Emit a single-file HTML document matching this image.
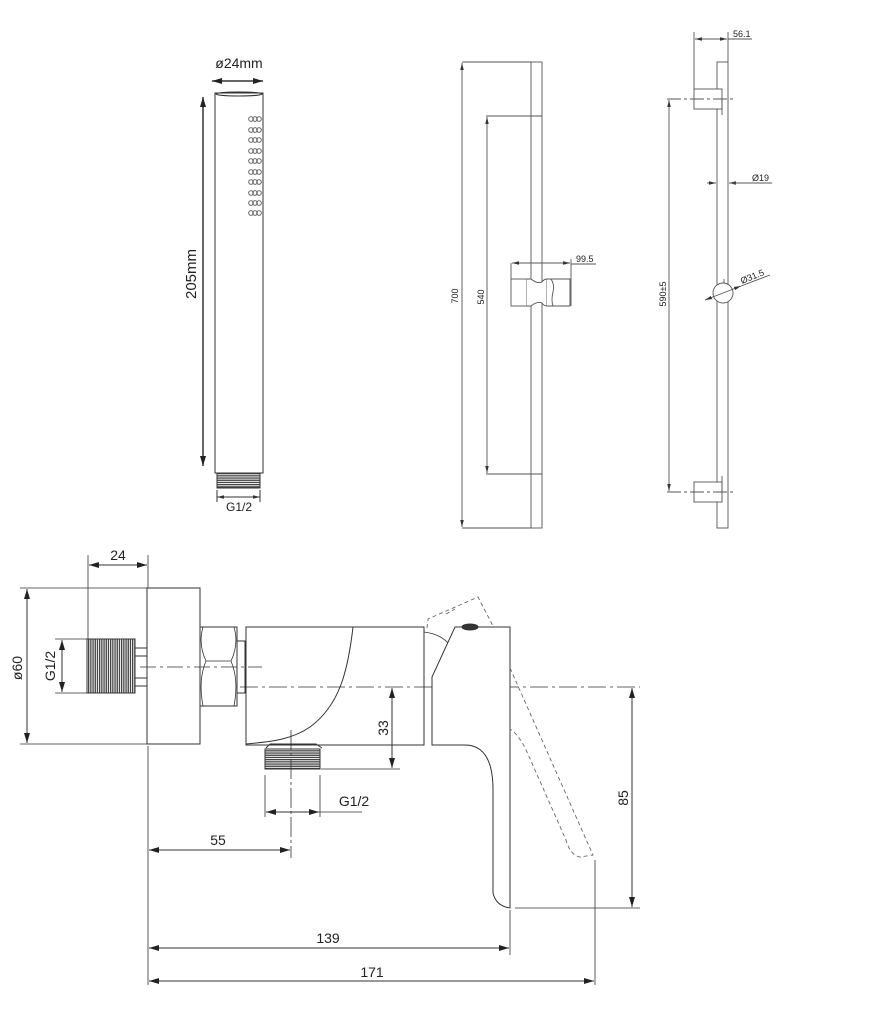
<!DOCTYPE html>
<html><head><meta charset="utf-8"><style>
html,body{margin:0;padding:0;background:#fff;}
svg{display:block;}
text{font-family:"Liberation Sans",sans-serif;fill:#222;}
</style></head><body>
<svg width="890" height="1024" viewBox="0 0 890 1024" xmlns="http://www.w3.org/2000/svg">
<defs>
<marker id="a" viewBox="0 0 10 6" refX="10" refY="3" markerWidth="10" markerHeight="6" orient="auto-start-reverse" markerUnits="userSpaceOnUse"><path d="M0,0L10,3L0,6z" fill="#222"/></marker>
<marker id="s" viewBox="0 0 8 4" refX="8" refY="2" markerWidth="7" markerHeight="4" orient="auto-start-reverse" markerUnits="userSpaceOnUse"><path d="M0,0L8,2L0,4z" fill="#333"/></marker>
<pattern id="thv" width="2.2" height="4" patternUnits="userSpaceOnUse"><rect width="2.2" height="4" fill="#fff"/><rect width="1.3" height="4" fill="#444"/></pattern>
<pattern id="thh" width="4" height="2.2" patternUnits="userSpaceOnUse"><rect width="4" height="2.2" fill="#fff"/><rect width="4" height="1.3" fill="#444"/></pattern>
</defs>
<g fill="none" stroke="#333" stroke-width="1">
<!-- HAND SHOWER -->
<rect x="215" y="93" width="48" height="380"/>
<ellipse cx="239" cy="94" rx="23" ry="2"/>
<rect x="217" y="473" width="43" height="15" fill="url(#thh)"/>
<line x1="212" y1="81" x2="263" y2="81" stroke-width="1.5" marker-start="url(#a)" marker-end="url(#a)"/>
<line x1="203" y1="97" x2="203" y2="466" stroke-width="1.5" marker-start="url(#a)" marker-end="url(#a)"/>
<line x1="217" y1="490" x2="217" y2="502"/><line x1="260" y1="490" x2="260" y2="502"/>
<line x1="217" y1="497" x2="260" y2="497" marker-start="url(#s)" marker-end="url(#s)"/>
<g stroke="#555" stroke-width="0.9">
<circle cx="251" cy="119" r="2.3"/><circle cx="255" cy="119" r="2.3"/><circle cx="259" cy="119" r="2.3"/>
<circle cx="251" cy="130" r="2.3"/><circle cx="255" cy="130" r="2.3"/><circle cx="259" cy="130" r="2.3"/>
<circle cx="251" cy="140" r="2.3"/><circle cx="255" cy="140" r="2.3"/><circle cx="259" cy="140" r="2.3"/>
<circle cx="251" cy="151" r="2.3"/><circle cx="255" cy="151" r="2.3"/><circle cx="259" cy="151" r="2.3"/>
<circle cx="251" cy="161" r="2.3"/><circle cx="255" cy="161" r="2.3"/><circle cx="259" cy="161" r="2.3"/>
<circle cx="251" cy="172" r="2.3"/><circle cx="255" cy="172" r="2.3"/><circle cx="259" cy="172" r="2.3"/>
<circle cx="251" cy="182" r="2.3"/><circle cx="255" cy="182" r="2.3"/><circle cx="259" cy="182" r="2.3"/>
<circle cx="251" cy="193" r="2.3"/><circle cx="255" cy="193" r="2.3"/><circle cx="259" cy="193" r="2.3"/>
<circle cx="251" cy="213" r="2.3"/><circle cx="255" cy="213" r="2.3"/><circle cx="259" cy="213" r="2.3"/>
<circle cx="251" cy="203" r="2.3"/><circle cx="255" cy="203" r="2.3"/><circle cx="259" cy="203" r="2.3"/>
</g>

<!-- SLIDE RAIL MIDDLE -->
<g stroke="#555" stroke-width="0.9">
<rect x="531" y="62" width="11" height="466"/>
<line x1="462" y1="62" x2="531" y2="62"/><line x1="462" y1="528" x2="531" y2="528"/>
<line x1="462" y1="63" x2="462" y2="527" marker-start="url(#s)" marker-end="url(#s)"/>
<line x1="486" y1="116" x2="542" y2="116"/><line x1="486" y1="474" x2="542" y2="474"/>
<line x1="487" y1="117" x2="487" y2="473" marker-start="url(#s)" marker-end="url(#s)"/>
<rect x="511" y="279" width="16" height="27" fill="#fff"/>
<path d="M527,279 H531 Q537,284 542,282 Q544,279 547,279 V306 Q544,306 542,303 Q537,301 531,306 H527" fill="#fff"/>
<path d="M547,279 H570 V306 H547" fill="#fff"/>
<path d="M551,279 Q555,285 553,292 Q551,300 553,306"/>
<line x1="511" y1="263" x2="511" y2="279"/><line x1="571" y1="259" x2="571" y2="306"/>
<line x1="512" y1="263" x2="570" y2="263" marker-start="url(#s)" marker-end="url(#s)"/>
<line x1="571" y1="264" x2="596" y2="264"/>
</g>

<!-- RIGHT RAIL -->
<g stroke="#555" stroke-width="0.9">
<rect x="717" y="62" width="11" height="466"/>
<rect x="694" y="89" width="28" height="20" fill="#fff"/>
<rect x="694" y="482" width="28" height="20" fill="#fff"/>
<line x1="722" y1="99" x2="722" y2="115"/><line x1="722" y1="476" x2="722" y2="492"/>
<line x1="694" y1="32" x2="694" y2="89"/><line x1="728" y1="32" x2="728" y2="62"/>
<line x1="695" y1="39" x2="727" y2="39" marker-start="url(#s)" marker-end="url(#s)"/>
<line x1="728" y1="39" x2="752" y2="39"/>
<line x1="667" y1="99" x2="734" y2="99" stroke-dasharray="14,3,3,3"/>
<line x1="667" y1="492" x2="734" y2="492" stroke-dasharray="14,3,3,3"/>
<line x1="669" y1="100" x2="669" y2="491" marker-start="url(#s)" marker-end="url(#s)"/>
<line x1="707" y1="183" x2="716" y2="183" marker-end="url(#s)"/>
<line x1="738" y1="183" x2="729" y2="183" marker-end="url(#s)"/>
<line x1="729" y1="183" x2="772" y2="183"/>
<circle cx="723" cy="293" r="10" fill="#fff"/>
<line x1="724" y1="283" x2="724" y2="279"/>
<line x1="705" y1="300" x2="741" y2="286" marker-start="url(#s)" marker-end="url(#s)"/>
<line x1="741" y1="286" x2="770" y2="275"/>
</g>

<!-- FAUCET -->
<!-- ext / dims left -->
<line x1="88" y1="555" x2="88" y2="639" stroke-width="0.8"/>
<line x1="148" y1="555" x2="148" y2="588" stroke-width="0.8"/>
<line x1="89" y1="565" x2="147" y2="565" marker-start="url(#a)" marker-end="url(#a)"/>
<line x1="20" y1="588" x2="147" y2="588" stroke-width="0.8"/>
<line x1="20" y1="744" x2="147" y2="744" stroke-width="0.8"/>
<line x1="27" y1="589" x2="27" y2="743" marker-start="url(#a)" marker-end="url(#a)"/>
<line x1="55" y1="639" x2="87" y2="639" stroke-width="0.8"/>
<line x1="55" y1="693" x2="87" y2="693" stroke-width="0.8"/>
<line x1="62" y1="640" x2="62" y2="692" marker-start="url(#a)" marker-end="url(#a)"/>
<rect x="87" y="639" width="48" height="54" fill="url(#thv)"/>
<rect x="87" y="639" width="48" height="54"/>
<rect x="135" y="648" width="12" height="8"/><rect x="135" y="678" width="12" height="8"/>
<!-- plate -->
<rect x="147" y="588" width="53" height="156"/>
<line x1="148" y1="746" x2="148" y2="985" stroke-width="0.8"/>
<!-- nut -->
<rect x="200" y="627" width="37" height="79"/>
<path d="M203,627 Q198,644 206,661 H231 Q239,644 234,627" stroke-width="0.8"/>
<path d="M203,706 Q198,680 206,661 M231,661 Q239,680 234,706" stroke-width="0.8"/>
<rect x="237" y="641" width="8" height="52"/>
<!-- centerlines -->
<line x1="140" y1="667" x2="262" y2="667" stroke-width="0.8" stroke-dasharray="16,4,3,4"/>
<line x1="240" y1="687" x2="640" y2="687" stroke-width="0.8" stroke-dasharray="18,4,3,4"/>
<!-- body -->
<rect x="246" y="627" width="178" height="118"/>
<path d="M353,627 C348,670 340,705 310,727 C290,741 265,742 246,744"/>
<!-- outlet -->
<path d="M266,748 L270,744 H316 L322,748"/>
<rect x="265" y="749" width="55" height="20" fill="url(#thh)"/>
<rect x="265" y="749" width="55" height="20"/>
<line x1="291" y1="730" x2="291" y2="858" stroke-width="0.8" stroke-dasharray="20,3,3,3"/>
<line x1="321" y1="769" x2="400" y2="769" stroke-width="0.8"/>
<line x1="392" y1="688" x2="392" y2="768" marker-start="url(#a)" marker-end="url(#a)"/>
<line x1="265" y1="775" x2="265" y2="817" stroke-width="0.8"/>
<line x1="320" y1="775" x2="320" y2="817" stroke-width="0.8"/>
<line x1="266" y1="812" x2="319" y2="812" marker-start="url(#a)" marker-end="url(#a)"/>
<line x1="319" y1="812" x2="362" y2="812" stroke-width="0.8"/>
<line x1="149" y1="850" x2="290" y2="850" marker-start="url(#a)" marker-end="url(#a)"/>
<!-- lever -->
<path d="M424,632 Q440,634 448,643" stroke-width="0.8"/>
<path d="M455,627 H510 V908 Q496,906 493,893 V790 Q493,745 465,745 H432 V677 Z" fill="#fff"/>
<ellipse cx="470" cy="627" rx="8" ry="3" fill="#333"/>
<g stroke="#666" stroke-width="0.9" stroke-dasharray="4,3">
<path d="M427,628 L428,619 L478,597 L493,626"/>
<path d="M446,614 L455,609"/>
<path d="M510,668 L593,855 L580,857 Q570,855 566,840 L527,752 Q520,736 510,729"/>
</g>
<!-- right dims -->
<line x1="515" y1="908" x2="640" y2="908" stroke-width="0.8"/>
<line x1="632" y1="688" x2="632" y2="907" marker-start="url(#a)" marker-end="url(#a)"/>
<line x1="510" y1="910" x2="510" y2="955" stroke-width="0.8"/>
<line x1="595" y1="860" x2="595" y2="985" stroke-width="0.8"/>
<line x1="149" y1="948" x2="509" y2="948" marker-start="url(#a)" marker-end="url(#a)"/>
<line x1="149" y1="981" x2="594" y2="981" marker-start="url(#a)" marker-end="url(#a)"/>
</g>

<!-- TEXT -->
<text x="239" y="68" font-size="14" text-anchor="middle">ø24mm</text>
<text transform="translate(196,274) rotate(-90)" font-size="15" text-anchor="middle">205mm</text>
<text x="239" y="511" font-size="12" text-anchor="middle">G1/2</text>
<g font-size="9" fill="#444">
<text transform="translate(458,296) rotate(-90)" text-anchor="middle">700</text>
<text transform="translate(484,297) rotate(-90)" text-anchor="middle">540</text>
<text x="576" y="262">99.5</text>
<text x="733" y="37">56.1</text>
<text x="752" y="181">Ø19</text>
<text transform="translate(666,294) rotate(-90)" text-anchor="middle">590±5</text>
<text transform="translate(742,284) rotate(-22)">Ø31.5</text>
</g>
<g font-size="14">
<text x="118" y="560" text-anchor="middle">24</text>
<text transform="translate(22,668) rotate(-90)" text-anchor="middle">ø60</text>
<text transform="translate(55,666) rotate(-90)" text-anchor="middle">G1/2</text>
<text transform="translate(388,728) rotate(-90)" text-anchor="middle">33</text>
<text x="354" y="806" text-anchor="middle">G1/2</text>
<text x="218" y="845" text-anchor="middle">55</text>
<text transform="translate(628,798) rotate(-90)" text-anchor="middle">85</text>
<text x="328" y="943" text-anchor="middle">139</text>
<text x="372" y="977" text-anchor="middle">171</text>
</g>
</svg>
</body></html>
